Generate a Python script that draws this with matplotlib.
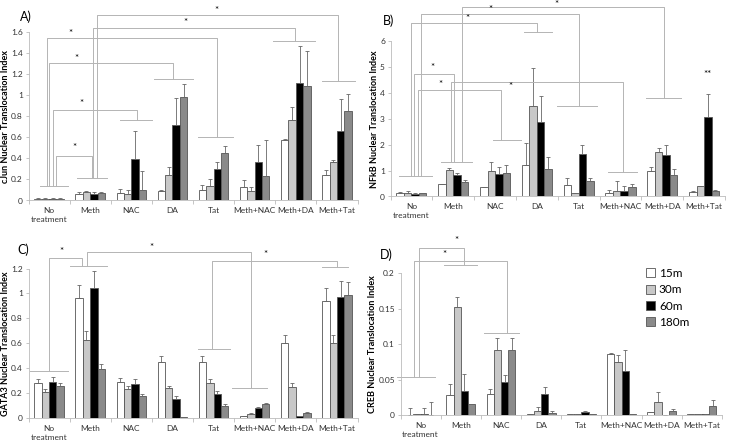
import numpy as np
import matplotlib
matplotlib.use("Agg")
import matplotlib.pyplot as plt

plt.rcParams['font.family'] = ['Lato', 'DejaVu Sans']

W, H = 729, 444

categories = ['No\ntreatment', 'Meth', 'NAC', 'DA', 'Tat', 'Meth+NAC', 'Meth+DA', 'Meth+Tat']
series_names = ['15m', '30m', '60m', '180m']

# A) cJun
a15 = [0.01, 0.06, 0.075, 0.09, 0.10, 0.13, 0.57, 0.24]
a15e = [0.01, 0.02, 0.035, 0.01, 0.05, 0.06, 0.01, 0.05]
a30 = [0.01, 0.08, 0.06, 0.24, 0.14, 0.09, 0.76, 0.37]
a30e = [0.01, 0.01, 0.04, 0.08, 0.06, 0.04, 0.13, 0.01]
a60 = [0.01, 0.06, 0.39, 0.72, 0.30, 0.37, 1.12, 0.66]
a60e = [0.01, 0.025, 0.27, 0.25, 0.07, 0.16, 0.35, 0.30]
a180 = [0.01, 0.07, 0.10, 0.98, 0.45, 0.23, 1.09, 0.85]
a180e = [0.01, 0.01, 0.18, 0.13, 0.07, 0.34, 0.33, 0.16]

# B) NFkB
b15 = [0.12, 0.47, 0.35, 1.22, 0.45, 0.15, 1.0, 0.17]
b15e = [0.06, 0.03, 0.03, 0.86, 0.28, 0.12, 0.15, 0.03]
b30 = [0.15, 1.03, 0.98, 3.5, 0.12, 0.2, 1.7, 0.4]
b30e = [0.07, 0.07, 0.37, 1.45, 0.0, 0.38, 0.18, 0.0]
b60 = [0.1, 0.83, 0.88, 2.87, 1.65, 0.2, 1.6, 3.05]
b60e = [0.05, 0.07, 0.27, 1.01, 0.35, 0.22, 0.37, 0.9]
b180 = [0.12, 0.55, 0.9, 1.08, 0.58, 0.38, 0.82, 0.23]
b180e = [0.03, 0.1, 0.33, 0.44, 0.14, 0.12, 0.25, 0.02]

# C) GATA3
c15 = [0.28, 0.96, 0.29, 0.45, 0.45, 0.02, 0.60, 0.94]
c15e = [0.03, 0.11, 0.03, 0.05, 0.05, 0.0, 0.07, 0.10]
c30 = [0.21, 0.63, 0.23, 0.24, 0.28, 0.03, 0.25, 0.60]
c30e = [0.02, 0.07, 0.03, 0.02, 0.03, 0.01, 0.03, 0.07]
c60 = [0.29, 1.04, 0.27, 0.15, 0.19, 0.08, 0.02, 0.97]
c60e = [0.04, 0.14, 0.04, 0.03, 0.03, 0.01, 0.0, 0.13]
c180 = [0.26, 0.39, 0.18, 0.01, 0.10, 0.11, 0.04, 0.99]
c180e = [0.02, 0.04, 0.01, 0.0, 0.01, 0.01, 0.01, 0.10]

# D) CREB
d15 = [0.0, 0.028, 0.029, 0.001, 0.001, 0.086, 0.004, 0.001]
d15e = [0.010, 0.016, 0.008, 0.0, 0.0, 0.001, 0.0, 0.0]
d30 = [0.001, 0.152, 0.091, 0.005, 0.001, 0.074, 0.019, 0.001]
d30e = [0.0, 0.014, 0.018, 0.006, 0.0, 0.011, 0.013, 0.0]
d60 = [0.001, 0.034, 0.046, 0.030, 0.004, 0.062, 0.0, 0.002]
d60e = [0.009, 0.024, 0.010, 0.010, 0.001, 0.030, 0.0, 0.0]
d180 = [0.0, 0.016, 0.091, 0.003, 0.001, 0.002, 0.006, 0.012]
d180e = [0.018, 0.0, 0.018, 0.003, 0.0, 0.0, 0.003, 0.009]

# significance marks: caps (x0, x1, y), brackets (x1, y1, x2, y2, top), stars (x, y, text)
a_caps = [(-0.22, 0.47, 0.139), (0.67, 1.40, 0.215), (1.72, 2.5, 0.76), (2.55, 3.5, 1.15),
          (3.63, 4.48, 0.60), (5.45, 6.47, 1.51), (6.63, 7.44, 1.13)]
a_brackets = [(0.17, 0.139, 1.04, 0.215, 0.42), (0.10, 0.139, 2.15, 0.76, 0.86),
              (0.01, 0.139, 3.02, 1.15, 1.31), (-0.06, 0.139, 4.08, 0.60, 1.54),
              (1.08, 0.215, 5.98, 1.51, 1.64), (1.16, 0.215, 7.03, 1.13, 1.76)]
a_stars = [(0.61, 0.50, '*'), (0.79, 0.92, '*'), (0.655, 1.35, '*'), (0.526, 1.59, '*'),
           (3.31, 1.69, '*'), (4.08, 1.80, '*')]

b_caps = [(-0.30, 0.50, 0.80), (0.70, 1.46, 1.32), (1.94, 2.61, 2.18), (2.69, 3.37, 6.34),
          (3.49, 4.45, 3.51), (4.69, 5.40, 0.93), (5.6, 6.44, 3.79)]
b_brackets = [(0.06, 0.80, 1.02, 1.32, 4.73), (0.16, 0.80, 2.15, 2.18, 4.11),
              (0.95, 1.32, 5.05, 0.93, 4.40), (-0.02, 0.80, 3.01, 6.34, 6.71),
              (0.24, 0.80, 4.01, 3.51, 7.05), (1.22, 1.32, 6.04, 3.79, 7.32)]
b_stars = [(0.50, 4.98, '*'), (0.70, 4.34, '*'), (2.38, 4.24, '*'), (1.34, 6.88, '*'),
           (1.88, 7.2, '*'), (3.48, 7.4, '*'), (7.08, 4.70, '**')]

c_caps = [(-0.46, 0.47, 0.378), (0.51, 1.40, 1.22), (3.62, 4.40, 0.55), (4.44, 5.29, 0.244),
          (6.63, 7.28, 1.21)]
c_brackets = [(0.01, 0.378, 0.79, 1.22, 1.286), (0.93, 1.22, 4.90, 0.244, 1.334),
              (3.95, 0.55, 6.99, 1.21, 1.26)]
c_stars = [(0.29, 1.34, '*'), (2.50, 1.37, '*'), (5.25, 1.31, '*')]

d_caps = [(-0.58, 0.37, 0.0537), (0.58, 1.41, 0.211), (1.57, 2.45, 0.115)]
d_brackets = [(-0.17, 0.0537, 2.15, 0.115, 0.217), (-0.04, 0.0537, 1.08, 0.211, 0.235)]
d_stars = [(0.6, 0.226, '*'), (0.9, 0.246, '*')]

colors = ['white', '#c8c8c8', 'black', '#8a8a8a']
edge = '#555555'
line_c = '#b4b4b4'
bw = 0.18


def rect(l, r, y0, ytop):
    # pixel box -> figure fraction
    return [l / W, 1 - y0 / H, (r - l) / W, (y0 - ytop) / H]


def draw_panel(ax, series, errs, ymax, yticks, ylabel, caps, brackets, stars):
    x = np.arange(len(categories))
    for k, (vals, err) in enumerate(zip(series, errs)):
        ax.bar(x + (k - 1.5) * bw, vals, bw, color=colors[k], edgecolor=edge,
               linewidth=0.6, label=series_names[k],
               yerr=[np.zeros(len(err)), err],
               error_kw=dict(ecolor='#666666', elinewidth=0.6, capsize=1.5, capthick=0.6))
    ax.set_xlim(-0.5, 7.5)
    ax.set_ylim(0, ymax)
    ax.set_yticks(yticks)
    ax.set_yticklabels(['%g' % t for t in yticks], fontsize=6, color='#333333')
    ax.set_xticks(x)
    ax.set_xticklabels(categories, fontsize=6, color='#333333', linespacing=1.3)
    ax.set_xticks(np.arange(-0.5, 8, 1), minor=True)
    ax.tick_params(axis='x', which='major', length=0, pad=5)
    ax.tick_params(axis='x', which='minor', length=3, color='#bbbbbb', width=0.6)
    ax.tick_params(axis='y', length=2.5, color='#bbbbbb', width=0.6, pad=1.5)
    for s in ['top', 'right']:
        ax.spines[s].set_visible(False)
    for s in ['left', 'bottom']:
        ax.spines[s].set_color('#bbbbbb')
        ax.spines[s].set_linewidth(0.6)
    ax.set_ylabel(ylabel, fontsize=6.5, fontweight='bold', labelpad=1)
    for x0, x1, y in caps:
        ax.plot([x0, x1], [y, y], color=line_c, lw=0.7, clip_on=False)
    for x1, y1, x2, y2, top in brackets:
        ax.plot([x1, x1, x2, x2], [y1, top, top, y2], color=line_c, lw=0.7, clip_on=False)
    for sx, sy, t in stars:
        ax.text(sx, sy, t, ha='center', va='center', fontsize=7, clip_on=False)


fig = plt.figure(figsize=(W / 100, H / 100), dpi=100)

axA = fig.add_axes(rect(28.5, 357.5, 200.5, 32))
draw_panel(axA, [a15, a30, a60, a180], [a15e, a30e, a60e, a180e], 1.6,
           [0, 0.2, 0.4, 0.6, 0.8, 1, 1.2, 1.4, 1.6],
           'cJun Nuclear Translocation Index', a_caps, a_brackets, a_stars)

axB = fig.add_axes(rect(390.5, 725, 196.5, 41))
draw_panel(axB, [b15, b30, b60, b180], [b15e, b30e, b60e, b180e], 6,
           [0, 1, 2, 3, 4, 5, 6],
           'NFkB Nuclear Translocation Index', b_caps, b_brackets, b_stars)

axC = fig.add_axes(rect(28.5, 357.5, 418, 268.5))
draw_panel(axC, [c15, c30, c60, c180], [c15e, c30e, c60e, c180e], 1.2,
           [0, 0.2, 0.4, 0.6, 0.8, 1, 1.2],
           'GATA3 Nuclear Translocation Index', c_caps, c_brackets, c_stars)

axD = fig.add_axes(rect(400.5, 722, 415, 273))
draw_panel(axD, [d15, d30, d60, d180], [d15e, d30e, d60e, d180e], 0.2,
           [0, 0.05, 0.1, 0.15, 0.2],
           'CREB Nuclear Translocation Index', d_caps, d_brackets, d_stars)

handles, labels = axD.get_legend_handles_labels()
fig.legend(handles, labels, loc='upper left', bbox_to_anchor=(640 / W, 1 - 262 / H),
           frameon=False, fontsize=8.5, handlelength=0.8, handleheight=0.8,
           handletextpad=0.3, labelspacing=0.45, borderpad=0)

fig.text(20 / W, 1 - 17 / H, 'A)', fontsize=9, va='center')
fig.text(383 / W, 1 - 21 / H, 'B)', fontsize=9, va='center')
fig.text(17 / W, 1 - 250 / H, 'C)', fontsize=9, va='center')
fig.text(380 / W, 1 - 255 / H, 'D)', fontsize=9, va='center')

fig.savefig('out.png', dpi=100)
